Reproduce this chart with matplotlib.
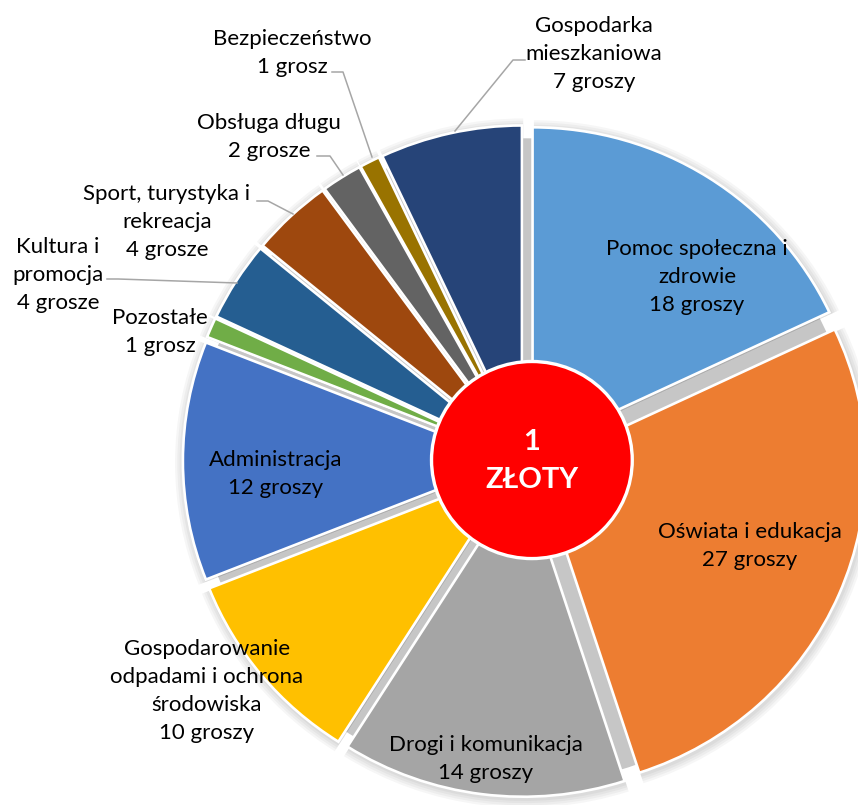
import matplotlib
matplotlib.use("Agg")
import matplotlib.pyplot as plt
from matplotlib.patches import Circle

plt.rcParams['font.family'] = ['Lato', 'DejaVu Sans']

# data
names = ['Pomoc społeczna i\nzdrowie', 'Oświata i edukacja', 'Drogi i komunikacja',
         'Gospodarowanie\nodpadami i ochrona\nśrodowiska', 'Administracja', 'Pozostałe',
         'Kultura i\npromocja', 'Sport, turystyka i\nrekreacja', 'Obsługa długu',
         'Bezpieczeństwo', 'Gospodarka\nmieszkaniowa']
values = [18, 27, 14, 10, 12, 1, 4, 4, 2, 1, 7]
colors = ['#5B9BD5', '#ED7D31', '#A5A5A5', '#FFC000', '#4472C4', '#70AD47',
          '#255E91', '#9E480E', '#636363', '#997300', '#264478']

def unit(v):
    if v == 1:
        return 'grosz'
    if v % 10 in (2, 3, 4) and v not in (12, 13, 14):
        return 'grosze'
    return 'groszy'

labels = [f'{n}\n{v} {unit(v)}' for n, v in zip(names, values)]

# label layout (pixel positions in the 858x805 picture)
label_pos = [(697, 277), (750, 546), (486, 759), (207, 691), (276, 474), (160, 332),
             (58, 275), (167, 222), (269, 137), (292, 53), (594, 54)]
leaders = {
    6: [(107, 279), (118, 279), (237, 283)],
    7: [(257, 201), (268, 201), (293, 214)],
    8: [(317, 156), (330, 156), (343, 175)],
    9: [(332, 72), (343, 72), (372, 157)],
    10: [(525, 60), (513, 60), (455, 131)],
}

W, H = 858, 805
cx, cy, rx, ry = 525, 461, 328, 322
expl = [0.043] * len(values)

fig = plt.figure(figsize=(W / 100, H / 100), dpi=100)
ax = fig.add_axes([0, 0, 1, 1])

# soft shadow under the slices
ax.add_patch(Circle((0, 0), 1.0, color='#C6C6C6', zorder=0))
for k in range(1, 5):
    ax.pie(values, colors=['#000000'] * len(values), radius=1 + 0.007 * k,
           explode=expl, startangle=90, counterclock=False, center=(0.004, -0.006),
           wedgeprops=dict(alpha=0.035, linewidth=0, zorder=0.5))

wedges, _ = ax.pie(values, colors=colors, explode=expl, startangle=90, counterclock=False,
                   radius=1, wedgeprops=dict(edgecolor='white', linewidth=1.9, zorder=2))

ax.add_patch(Circle((0.021, 0.003), 0.306, facecolor='#FF0000', edgecolor='white',
                    linewidth=2.4, zorder=5))
ax.text(0.021, 0.0, '1\nZŁOTY', color='white', fontsize=21, fontweight='bold',
        ha='center', va='center', linespacing=1.6, zorder=6)

ax.set_aspect('auto')
ax.set_xlim(-cx / rx, (W - cx) / rx)
ax.set_ylim((cy - H) / ry, cy / ry)
ax.axis('off')

# labels and leader lines on a pixel overlay
lab = fig.add_axes([0, 0, 1, 1])
lab.set_xlim(0, W)
lab.set_ylim(H, 0)
lab.axis('off')
lab.patch.set_alpha(0)

for i, (txt, (x, y)) in enumerate(zip(labels, label_pos)):
    lab.text(x, y, txt, fontsize=16, color='#000000', ha='center', va='center',
             multialignment='center', linespacing=1.5)

for i, pts in leaders.items():
    xs = [p[0] for p in pts]
    ys = [p[1] for p in pts]
    lab.plot(xs, ys, color='#A6A6A6', linewidth=1.1)

fig.savefig('out.png', dpi=100, facecolor='white')
